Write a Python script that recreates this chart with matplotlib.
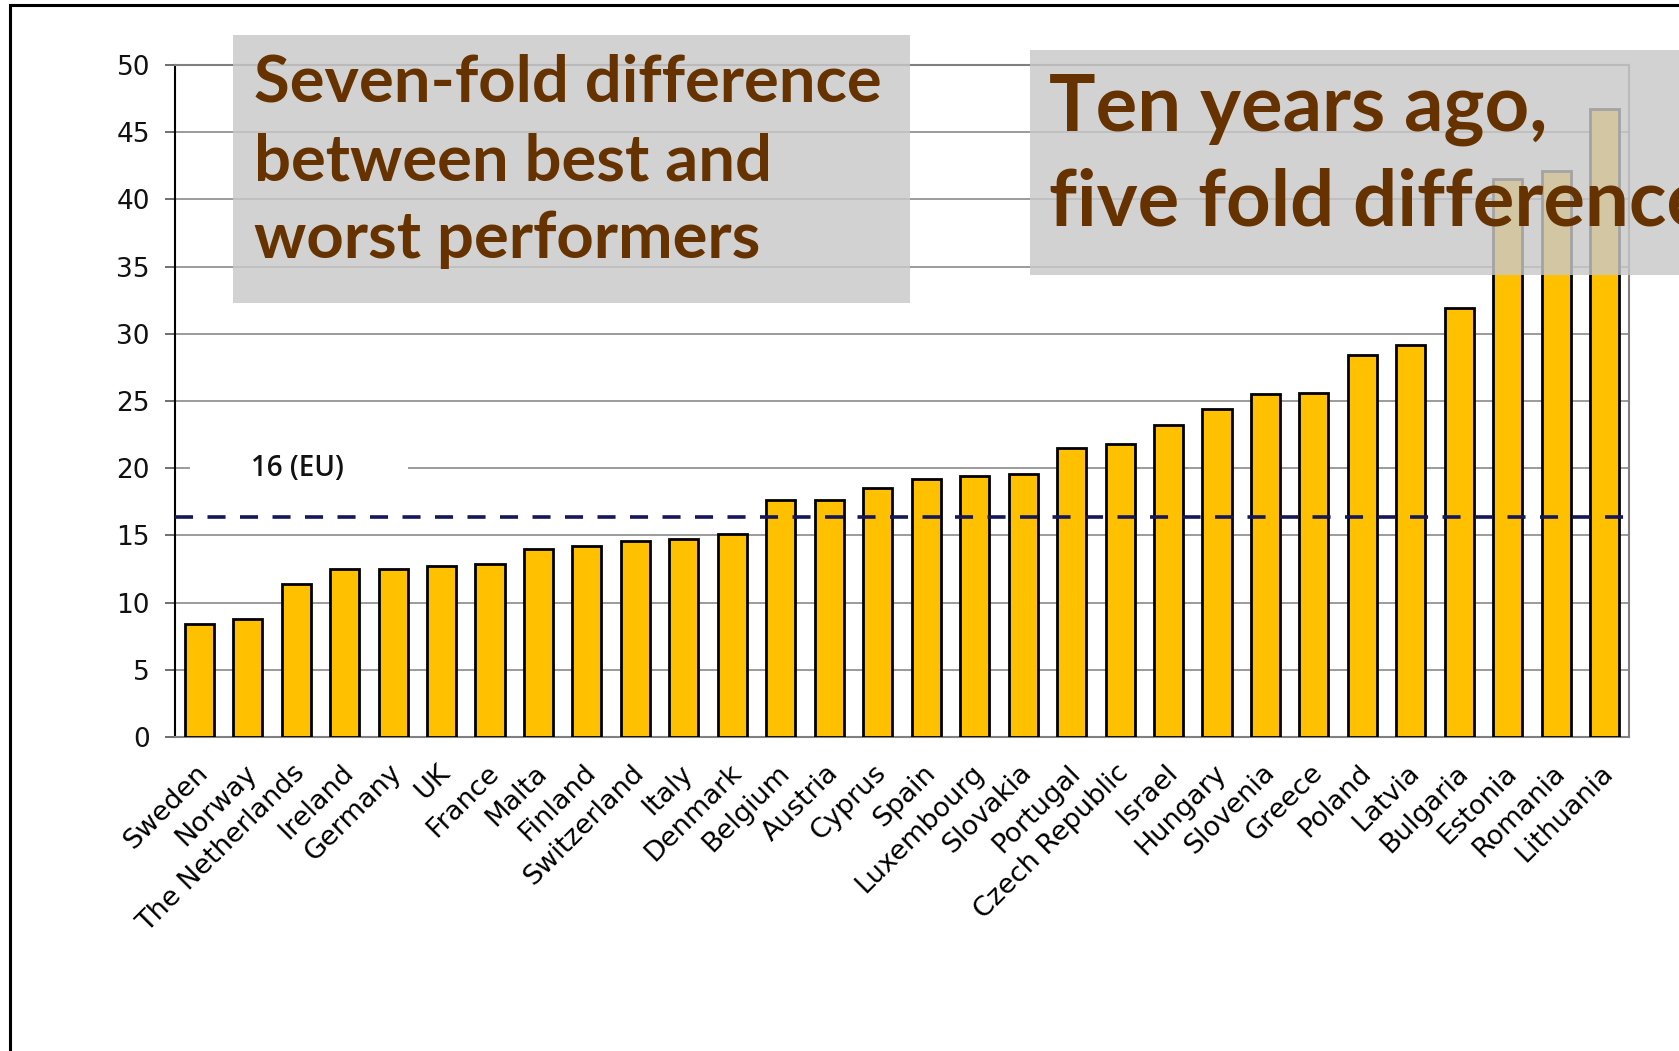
import matplotlib.pyplot as plt
from matplotlib.patches import Rectangle
from matplotlib.transforms import ScaledTranslation

# Countries and values, sorted low to high
countries = ["Sweden", "Norway", "The Netherlands", "Ireland", "Germany", "UK",
             "France", "Malta", "Finland", "Switzerland", "Italy", "Denmark",
             "Belgium", "Austria", "Cyprus", "Spain", "Luxembourg", "Slovakia",
             "Portugal", "Czech Republic", "Israel", "Hungary", "Slovenia",
             "Greece", "Poland", "Latvia", "Bulgaria", "Estonia", "Romania",
             "Lithuania"]
values = [8.4, 8.8, 11.4, 12.5, 12.5, 12.7, 12.9, 14.0, 14.2, 14.6, 14.7, 15.1,
          17.6, 17.6, 18.5, 19.2, 19.4, 19.6, 21.5, 21.8, 23.2, 24.4, 25.5,
          25.6, 28.4, 29.2, 31.9, 41.5, 42.1, 46.7]
eu_avg = 16.4
y_ticks = [0, 5, 10, 15, 20, 25, 30, 35, 40, 45, 50]

box_left_text = "Seven-fold difference\nbetween best and\nworst performers"
box_right_text = "Ten years ago,\nfive fold difference"

fig = plt.figure(figsize=(16.79, 10.51), dpi=100)
ax = fig.add_axes([0.1042, 0.2988, 0.866, 0.6394])

x = list(range(len(countries)))
ax.bar(x, values, width=0.6, color="#FFC000", edgecolor="black",
       linewidth=2, zorder=3)

ax.set_xlim(-0.5, len(countries) - 0.5)
ax.set_ylim(0, 50)
ax.set_yticks(y_ticks)
ax.set_yticklabels([str(t) for t in y_ticks], fontsize=19, color="#111111")
ax.tick_params(axis="y", length=7, width=1.2, color="#555555", pad=11)
ax.yaxis.grid(True, color="#808080", linewidth=1.1, zorder=0)
ax.set_axisbelow(True)

ax.set_xticks(x)
ax.set_xticklabels(countries, rotation=45, ha="right", va="center",
                   rotation_mode="anchor", fontsize=19.5)
ax.tick_params(axis="x", length=0, pad=23)
shift = ScaledTranslation(5 / 100, 0, fig.dpi_scale_trans)
for lbl in ax.get_xticklabels():
    lbl.set_transform(lbl.get_transform() + shift)

for side in ["top", "right", "bottom"]:
    ax.spines[side].set_color("#808080")
    ax.spines[side].set_linewidth(1.5)
ax.spines["left"].set_color("black")
ax.spines["left"].set_linewidth(1.5)

# EU average line and its label
ax.axhline(eu_avg, xmin=0, xmax=0.998, color="#16165c", linewidth=2.6,
           linestyle=(0, (5.0, 4.0)), zorder=4)
ax.add_patch(Rectangle((-0.19, 19), 4.5, 2, facecolor="white",
                       edgecolor="none", zorder=1))
ax.text(1.07, 20, f"{eu_avg:.0f} (EU)", fontsize=20, fontfamily="Open Sans",
        fontweight="semibold", ha="left", va="center", color="#111111",
        zorder=5)

# Outer slide frame
fig.add_artist(Rectangle((10 / 1679, -0.1), 1.2, 1.1 - 5 / 1051,
                         transform=fig.transFigure, fill=False,
                         edgecolor="black", linewidth=2.2, clip_on=False))

# Call-out boxes laid over the chart
fig.add_artist(Rectangle((0.1388, 0.7117), 0.4032, 0.255,
                         transform=fig.transFigure, facecolor="#c8c8c8",
                         edgecolor="none", alpha=0.82, zorder=2))
fig.add_artist(Rectangle((0.6135, 0.7383), 0.45, 0.2141,
                         transform=fig.transFigure, facecolor="#c8c8c8",
                         edgecolor="none", alpha=0.82, zorder=2))

fig.text(254 / 1679, 1 - 54 / 1051, box_left_text, fontsize=47,
         fontfamily="Lato", fontweight="bold", color="#663300",
         ha="left", va="top", linespacing=1.4, zorder=5)
fig.text(1049 / 1679, 1 - 74 / 1051, box_right_text, fontsize=56,
         fontfamily="Lato", fontweight="bold", color="#663300",
         ha="left", va="top", linespacing=1.36, zorder=5)

fig.savefig("out.png", dpi=100)
